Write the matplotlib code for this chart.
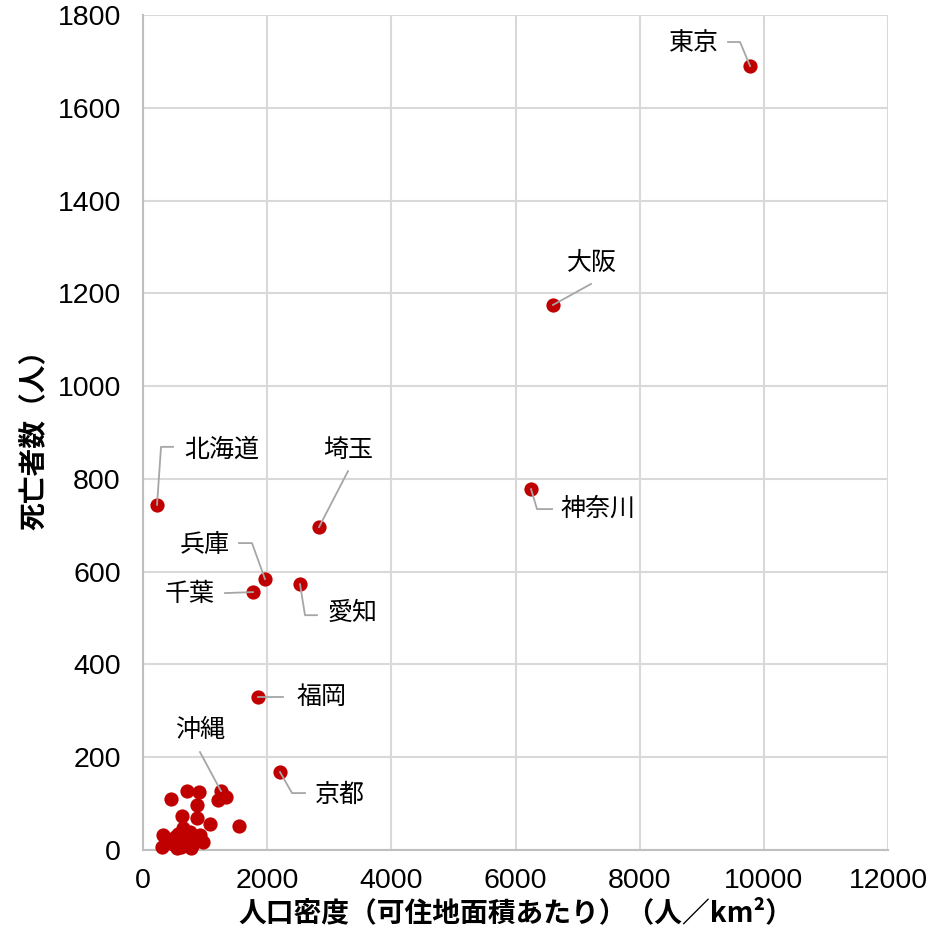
import matplotlib
matplotlib.use("Agg")
import matplotlib.pyplot as plt
from matplotlib import font_manager
from matplotlib.lines import Line2D

# ---- data ----
labels = ["東京", "大阪", "北海道", "埼玉", "神奈川", "兵庫", "千葉", "愛知", "福岡", "京都", "沖縄"]
label_density = [9778, 6604, 226, 2835, 6250, 1965, 1772, 2529, 1852, 2207, 1256]
label_deaths = [1690, 1175, 744, 696, 778, 584, 556, 573, 330, 168, 127]

other_density = [446, 714, 902, 865, 1213, 1337, 633, 865, 1079, 1551, 327, 649, 757,
                 918, 515, 301, 543, 811, 971, 703, 435, 623, 580, 690, 760, 850,
                 480, 660, 740, 820, 900, 560, 620, 780, 700, 520]
other_deaths = [111, 128, 124, 98, 108, 115, 74, 70, 55, 52, 32, 47, 39,
                32, 29, 7, 4, 14, 18, 25, 18, 18, 10, 12, 8, 22, 12, 30, 20, 26, 28, 35, 6, 5, 15, 20]

xticks = [0, 2000, 4000, 6000, 8000, 10000, 12000]
yticks = [0, 200, 400, 600, 800, 1000, 1200, 1400, 1600, 1800]

# label layout: text center offset and leader vertices (pixels, image y down)
text_off = {
    "東京": (-56, -23), "大阪": (39, -42), "北海道": (65, -55), "埼玉": (29, -77),
    "神奈川": (67, 20), "兵庫": (-60, -34), "千葉": (-63, 2), "愛知": (53, 29),
    "福岡": (64, 0), "京都": (60, 23), "沖縄": (-21, -61),
}
leader = {
    "東京": [(-22, -24), (-10, -24), (0, 0)],
    "大阪": [(38, -21), (0, 0)],
    "北海道": [(16, -58), (4, -58), (0, 0)],
    "埼玉": [(29, -56), (0, 0)],
    "神奈川": [(0, 0), (6, 20), (21, 20)],
    "兵庫": [(-26, -36), (-13, -36), (0, 0)],
    "千葉": [(-28, 1), (0, 0)],
    "愛知": [(0, 0), (5, 31), (17, 31)],
    "福岡": [(25, 0), (0, 0)],
    "京都": [(0, 0), (12, 21), (25, 21)],
    "沖縄": [(-21, -39), (0, 0)],
}

avail = {f.name for f in font_manager.fontManager.ttflist}
tick_font = "Liberation Sans" if "Liberation Sans" in avail else "DejaVu Sans"
cjk = ["Noto Sans CJK JP", "DejaVu Sans"]
plt.rcParams['font.family'] = cjk

W, H = 933, 946
fig = plt.figure(figsize=(W / 100, H / 100), dpi=100)
ax = fig.add_axes([143 / W, 1 - 850 / H, 745 / W, 835 / H])

red = "#c00000"
ax.scatter(other_density, other_deaths, s=105, color=red, zorder=5, clip_on=False, linewidths=0)
ax.scatter(label_density, label_deaths, s=105, color=red, zorder=5, clip_on=False, linewidths=0)

ax.set_xlim(0, 12000)
ax.set_ylim(0, 1800)
ax.set_xticks(xticks)
ax.set_yticks(yticks)
ax.grid(True, color="#d9d9d9", linewidth=1.5, zorder=0)
ax.set_axisbelow(True)
for s in ["top", "right"]:
    ax.spines[s].set_visible(False)
for s in ["left", "bottom"]:
    ax.spines[s].set_color("#bfbfbf")
    ax.spines[s].set_linewidth(1.5)
    ax.spines[s].set_zorder(2)
ax.tick_params(length=0)
ax.tick_params(axis="x", pad=13)
ax.tick_params(axis="y", pad=16)
for t in ax.get_xticklabels() + ax.get_yticklabels():
    t.set_fontfamily(tick_font)
    t.set_fontsize(20.5)

ax.set_xlabel("人口密度（可住地面積あたり）（人／km²）", fontsize=20, fontweight="bold", labelpad=4)
ax.set_ylabel("死亡者数（人）", fontsize=20, fontweight="bold", labelpad=6)

fig.canvas.draw()
for name, x, y in zip(labels, label_density, label_deaths):
    px, py = ax.transData.transform((x, y))
    tx, ty = text_off[name]
    ax.annotate(name, (x, y), xytext=(tx, -ty), textcoords="offset pixels",
                ha="center", va="center", fontsize=18, zorder=6)
    xs = [(px + dx) / W for dx, dy in leader[name]]
    ys = [(py - dy) / H for dx, dy in leader[name]]
    fig.add_artist(Line2D(xs, ys, transform=fig.transFigure, color="#a6a6a6", lw=1.3, zorder=2))

fig.savefig("out.png", dpi=100)
